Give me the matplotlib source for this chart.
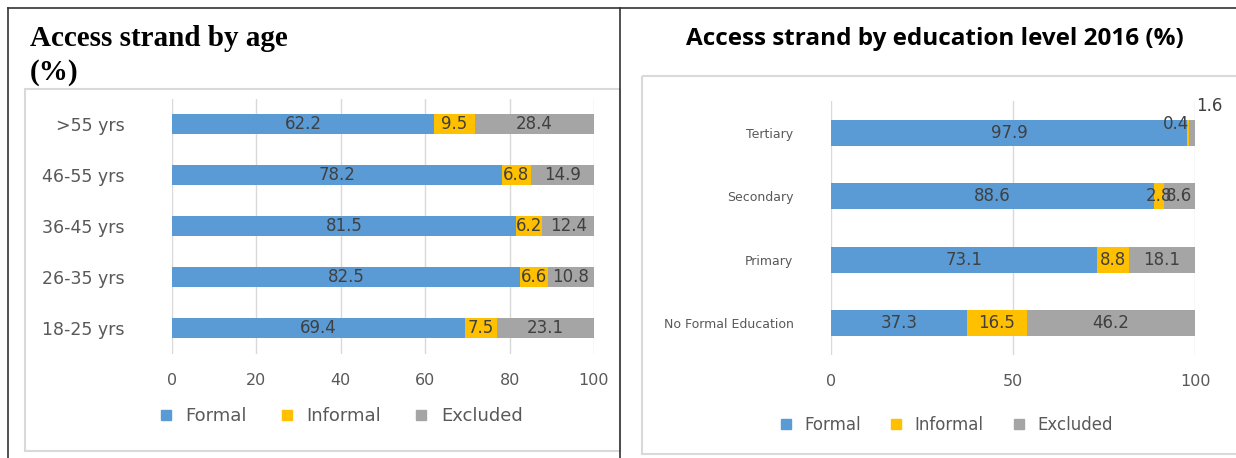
import numpy as np
import matplotlib
matplotlib.use("Agg")
import matplotlib.pyplot as plt
from matplotlib.patches import Rectangle
from matplotlib.lines import Line2D

# ── Données ──────────────────────────────────────────────────────────
AGE_GROUPS = ["18-25 yrs", "26-35 yrs", "36-45 yrs", "46-55 yrs", ">55 yrs"]
AGE_FORMAL = [69.4, 82.5, 81.5, 78.2, 62.2]
AGE_INFORMAL = [7.5, 6.6, 6.2, 6.8, 9.5]
AGE_EXCLUDED = [23.1, 10.8, 12.4, 14.9, 28.4]
AGE_TICKS = [0, 20, 40, 60, 80, 100]

EDU_LEVELS = ["No Formal Education", "Primary", "Secondary", "Tertiary"]
EDU_FORMAL = [37.3, 73.1, 88.6, 97.9]
EDU_INFORMAL = [16.5, 8.8, 2.8, 0.4]
EDU_EXCLUDED = [46.2, 18.1, 8.6, 1.6]
EDU_TICKS = [0, 50, 100]

SERIES = ["Formal", "Informal", "Excluded"]

BLUE = "#5B9BD5"; ORANGE = "#FFC000"; GRAY = "#A5A5A5"
COLORS = [BLUE, ORANGE, GRAY]
LABEL = "#404040"; TICK = "#595959"; GRID = "#D9D9D9"

W, H = 1236, 458
fig = plt.figure(figsize=(W / 100, H / 100), dpi=100, facecolor="white")


def px_axes(x0, y0, x1, y1, **kw):
    """Axes placé en pixels (origine en haut à gauche)."""
    return fig.add_axes([x0 / W, 1 - y1 / H, (x1 - x0) / W, (y1 - y0) / H], **kw)


# ── Cadre du tableau et des graphiques ──────────────────────────────
bg = px_axes(0, 0, W, H)
bg.set_xlim(0, W); bg.set_ylim(H, 0); bg.axis("off")
bg.plot([8, W], [8, 8], color="#333333", lw=1.2)
bg.plot([8, 8], [8, H], color="#333333", lw=1.2)
bg.plot([620, 620], [8, H], color="#333333", lw=1.2)
bg.add_patch(Rectangle((25, 89), 595, 362, fill=False, ec=GRID, lw=1.5))
bg.add_patch(Rectangle((642, 76), 600, 378, fill=False, ec=GRID, lw=1.5))

bg.text(30, 38, "Access strand by age", fontsize=21, fontweight="bold",
        family="Liberation Serif", va="center", ha="left", color="black")
bg.text(30, 73, "(%)", fontsize=21, fontweight="bold",
        family="Liberation Serif", va="center", ha="left", color="black")
bg.text(935, 39, "Access strand by education level 2016 (%)", fontsize=17.5,
        fontweight="bold", family="Open Sans", va="center", ha="center",
        color="black")


def stacked(ax, cats, formal, informal, excluded, ticks, fs_lab, fs_cat,
            fs_tick, cat_pad, bar_h=0.4):
    y = np.arange(len(cats))
    left = np.zeros(len(cats))
    for vals, col in zip([formal, informal, excluded], COLORS):
        vals = np.array(vals)
        ax.barh(y, vals, left=left, height=bar_h, color=col, zorder=3)
        for yi, l, v in zip(y, left, vals):
            if v < 1.0:
                # petit segment : étiquette décalée vers le haut à gauche
                ax.annotate(f"{v:.1f}", (l + v, yi), xytext=(0, 6),
                            textcoords="offset points", ha="right",
                            va="center", fontsize=fs_lab, color=LABEL, zorder=5)
            elif v < 2.0:
                ax.annotate(f"{v:.1f}", (l + v, yi + bar_h / 2),
                            xytext=(1, 10), textcoords="offset points",
                            ha="left", va="center", fontsize=fs_lab,
                            color=LABEL, zorder=5, annotation_clip=False)
            else:
                ax.text(l + v / 2, yi, f"{v:.1f}", ha="center", va="center",
                        fontsize=fs_lab, color=LABEL, zorder=5)
        left = left + vals
    ax.set_xlim(0, 100)
    ax.set_ylim(-0.5, len(cats) - 0.5)
    ax.set_xticks(ticks)
    ax.set_yticks(y)
    ax.set_yticklabels(cats)
    ax.tick_params(axis="x", length=0, pad=14, labelsize=fs_tick, colors=TICK)
    ax.tick_params(axis="y", length=0, pad=cat_pad, labelsize=fs_cat, colors=TICK)
    ax.grid(axis="x", color=GRID, lw=1.0, zorder=0)
    for sp in ax.spines.values():
        sp.set_visible(False)


# ── Panneau gauche : âge ─────────────────────────────────────────────
ax1 = px_axes(172, 98.5, 594, 353.5)
stacked(ax1, AGE_GROUPS, AGE_FORMAL, AGE_INFORMAL, AGE_EXCLUDED, AGE_TICKS,
        fs_lab=12, fs_cat=12.5, fs_tick=11.5, cat_pad=34)

# ── Panneau droit : éducation ────────────────────────────────────────
ax2 = px_axes(831, 101, 1195, 355)
stacked(ax2, EDU_LEVELS, EDU_FORMAL, EDU_INFORMAL, EDU_EXCLUDED, EDU_TICKS,
        fs_lab=12, fs_cat=9, fs_tick=11.5, cat_pad=27, bar_h=0.41)

# ── Légendes ─────────────────────────────────────────────────────────
handles = [Line2D([], [], marker="s", ls="", color=c, markersize=7) for c in COLORS]
fig.legend(handles, SERIES, loc="center", bbox_to_anchor=(335 / W, 1 - 416 / H),
           ncol=3, frameon=False, fontsize=13, handletextpad=0.1,
           columnspacing=1.2, labelcolor=TICK)
fig.legend(handles, SERIES, loc="center", bbox_to_anchor=(941 / W, 1 - 425 / H),
           ncol=3, frameon=False, fontsize=12, handletextpad=0.1,
           columnspacing=1.1, labelcolor=TICK)

fig.savefig("out.png", dpi=100, facecolor="white")
